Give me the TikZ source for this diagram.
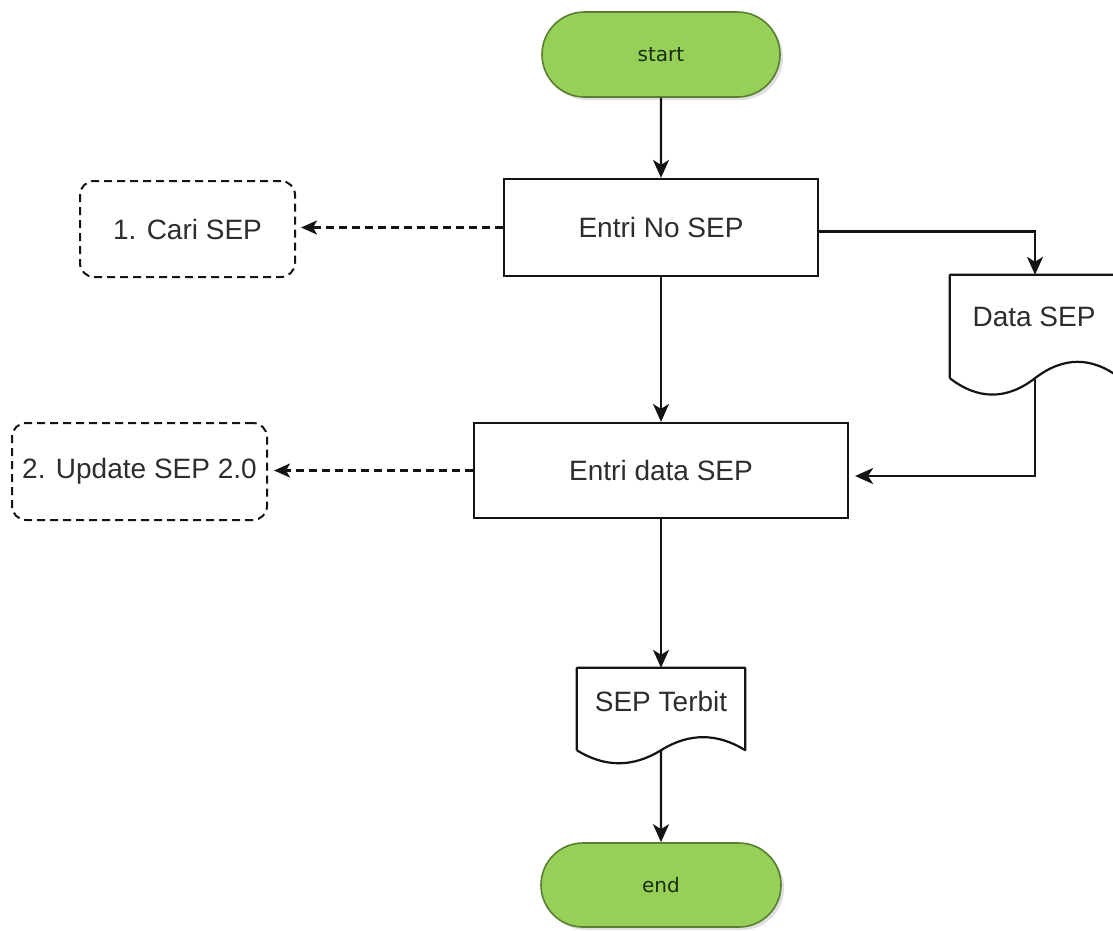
\documentclass[tikz,border=0pt]{standalone}
\usepackage{fontspec}
\setmainfont{Liberation Sans}
\newfontfamily\termfont{DejaVu Sans}
\usetikzlibrary{arrows.meta,calc,shadows,shapes.misc}
\definecolor{termfill}{RGB}{150,208,88}
\definecolor{termdraw}{RGB}{88,128,48}
\definecolor{termtext}{RGB}{25,45,12}
\definecolor{linecol}{RGB}{20,20,20}
\definecolor{txtcol}{RGB}{45,45,45}
\newcommand{\docwave}[3]{%
  \draw[docline] (#1.south west) -- (#1.north west) -- (#1.north east) -- (#1.south east)
    .. controls ($(#1.south east)+(-#2,-#3)$) and ($(#1.south)+(#2,-#3)$) .. (#1.south)
    .. controls ($(#1.south)+(-#2,#3)$) and ($(#1.south west)+(#2,#3)$) .. (#1.south west);}
\tikzset{
  terminal/.style={rounded rectangle, draw=termdraw, fill=termfill, line width=1.6pt,
    inner sep=0pt, font=\termfont\fontsize{20pt}{24pt}\selectfont, text=termtext,
    drop shadow={shadow xshift=3pt, shadow yshift=-3pt, opacity=0.25}},
  procbox/.style={rectangle, draw=linecol, line width=2.2pt, inner sep=0pt,
    font=\fontsize{28pt}{32pt}\selectfont, text=txtcol},
  dashbox/.style={rectangle, rounded corners=14pt, draw=linecol, line width=2pt,
    dash pattern=on 8pt off 5pt, inner sep=0pt,
    font=\fontsize{28pt}{32pt}\selectfont, text=txtcol},
  docarea/.style={rectangle, inner sep=0pt},
  docline/.style={draw=linecol, line width=2.2pt, line join=round},
  doctext/.style={inner sep=0pt, font=\fontsize{28pt}{32pt}\selectfont, text=txtcol},
  flow/.style={draw=linecol, line width=2.2pt, -{Stealth[length=18pt,width=16pt,inset=5pt]}},
  dflow/.style={draw=linecol, line width=2.2pt, dash pattern=on 8pt off 5pt,
    -{Stealth[length=16pt,width=14pt,inset=4pt]}},
}
\begin{document}
\begin{tikzpicture}[x=1pt,y=-1pt]
\clip (0,0) rectangle (1113,930);
\fill[white] (0,0) rectangle (1113,930);

\node[terminal, minimum width=238pt, minimum height=85pt] (start) at (661,54.5) {start};
\node[procbox, minimum width=314pt, minimum height=97pt] (ens) at (661,227.5) {Entri No SEP};
\node[dashbox, minimum width=215pt, minimum height=96pt] (cari) at (187.5,229) {1. Cari SEP};
\node[docarea, minimum width=170pt, minimum height=103pt] (dsep) at (1035,326.5) {};
\node[doctext] (dsepT) at (1034,317) {Data SEP};
\node[procbox, minimum width=374pt, minimum height=95pt] (eds) at (661,470.5) {Entri data SEP};
\node[dashbox, minimum width=255pt, minimum height=97pt] (upd) at (139.5,471.5) {2. Update SEP 2.0};
\node[docarea, minimum width=168pt, minimum height=82pt] (sep) at (661,709) {};
\node[doctext] (sepT) at (661,701) {SEP Terbit};
\node[terminal, minimum width=240pt, minimum height=84pt] (end) at (661,885) {end};

\docwave{dsep}{28.33}{21.84}
\docwave{sep}{28}{17.4}

\draw[flow] (start) -- (ens);
\draw[flow] ([yshift=-4pt]ens.east) -| (dsep.north);
\draw[flow] (ens) -- (eds);
\draw[flow, shorten >=6pt] (dsep.south) |- ([yshift=-5.5pt]eds.east);
\draw[dflow, shorten >=5pt] (ens.west) -- (ens.west -| cari.east);
\draw[dflow, shorten >=6pt] (eds.west) -- (eds.west -| upd.east);
\draw[flow] (eds) -- (sep);
\draw[flow] (sep.south) -- (end);
\end{tikzpicture}
\end{document}
